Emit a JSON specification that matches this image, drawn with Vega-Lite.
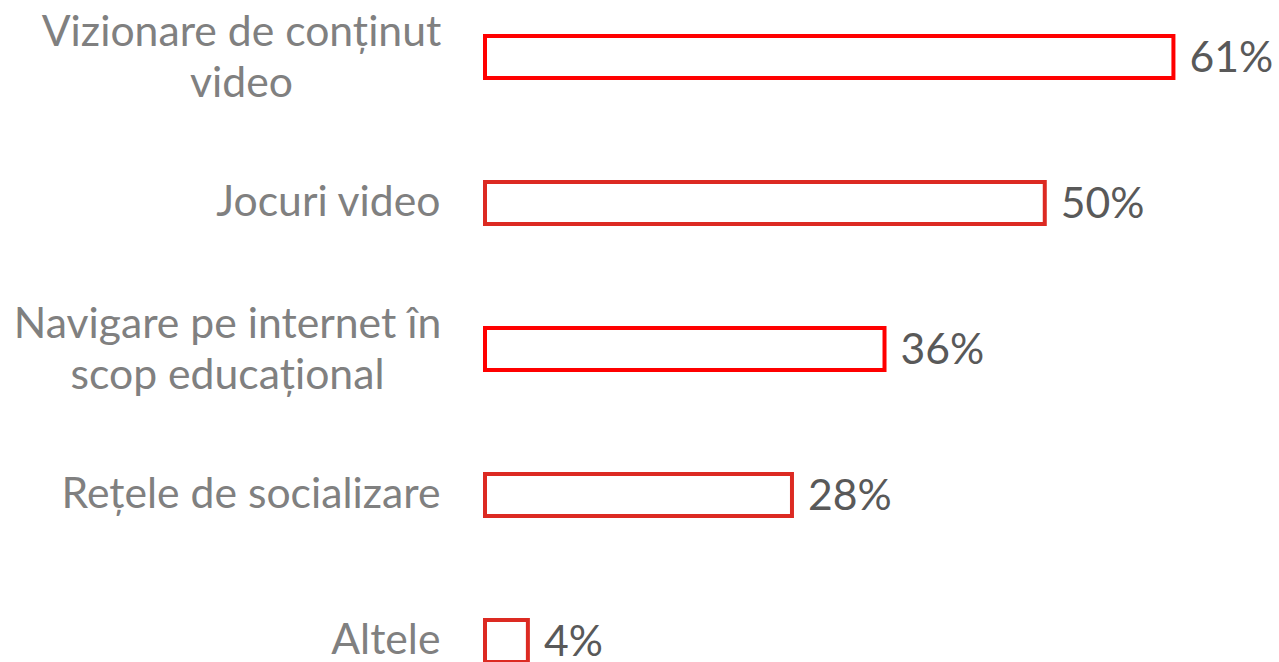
{
  "$schema": "https://vega.github.io/schema/vega-lite/v6.json",
  "autosize": "none",
  "width": 790,
  "height": 698,
  "padding": {"left": 485, "top": 0, "right": 0, "bottom": 0},
  "background": "white",
  "config": {"view": {"stroke": null}, "font": "Lato"},
  "data": {
    "values": [
      {"cat": "Vizionare de conținut|video", "value": 0.61, "label": "61%", "grp": "a"},
      {"cat": "Jocuri video", "value": 0.496, "label": "50%", "grp": "b"},
      {"cat": "Navigare pe internet în|scop educațional", "value": 0.354, "label": "36%", "grp": "a"},
      {"cat": "Rețele de socializare", "value": 0.272, "label": "28%", "grp": "b"},
      {"cat": "Altele", "value": 0.038, "label": "4%", "grp": "b"}
    ]
  },
  "encoding": {
    "y": {
      "field": "cat", "type": "nominal", "sort": null,
      "scale": {"paddingInner": 0.712, "paddingOuter": 0.2466},
      "axis": {
        "title": null, "domain": false, "ticks": false,
        "labelExpr": "split(datum.value, '|')",
        "labelFont": "Lato", "labelFontSize": 42.7, "labelColor": "#808080",
        "labelLineHeight": 51, "labelLimit": 600, "labelBaseline": "middle",
        "labelAlign": {"condition": {"test": "indexof(datum.value, '|') >= 0", "value": "center"}, "value": "right"},
        "labelOffset": {"condition": {"test": "indexof(datum.value, '|') >= 0", "value": -24}, "value": 0},
        "labelPadding": {"condition": [
          {"test": "datum.value == 'Vizionare de conținut|video'", "value": 244},
          {"test": "datum.value == 'Navigare pe internet în|scop educațional'", "value": 258}
        ], "value": 45}
      }
    },
    "x": {
      "field": "value", "type": "quantitative",
      "scale": {"domain": [0, 0.7], "nice": false},
      "axis": null
    }
  },
  "layer": [
    {
      "mark": {"type": "bar", "fill": "white", "strokeWidth": 4, "cornerRadius": 0},
      "encoding": {
        "stroke": {"field": "grp", "type": "nominal", "scale": {"domain": ["a", "b"], "range": ["#ff0000", "#dc2a22"]}, "legend": null}
      }
    },
    {
      "mark": {"type": "text", "align": "left", "baseline": "middle", "dx": 16, "dy": 2, "font": "Lato", "fontSize": 42.7, "color": "#595959"},
      "encoding": {"text": {"field": "label"}}
    }
  ]
}
